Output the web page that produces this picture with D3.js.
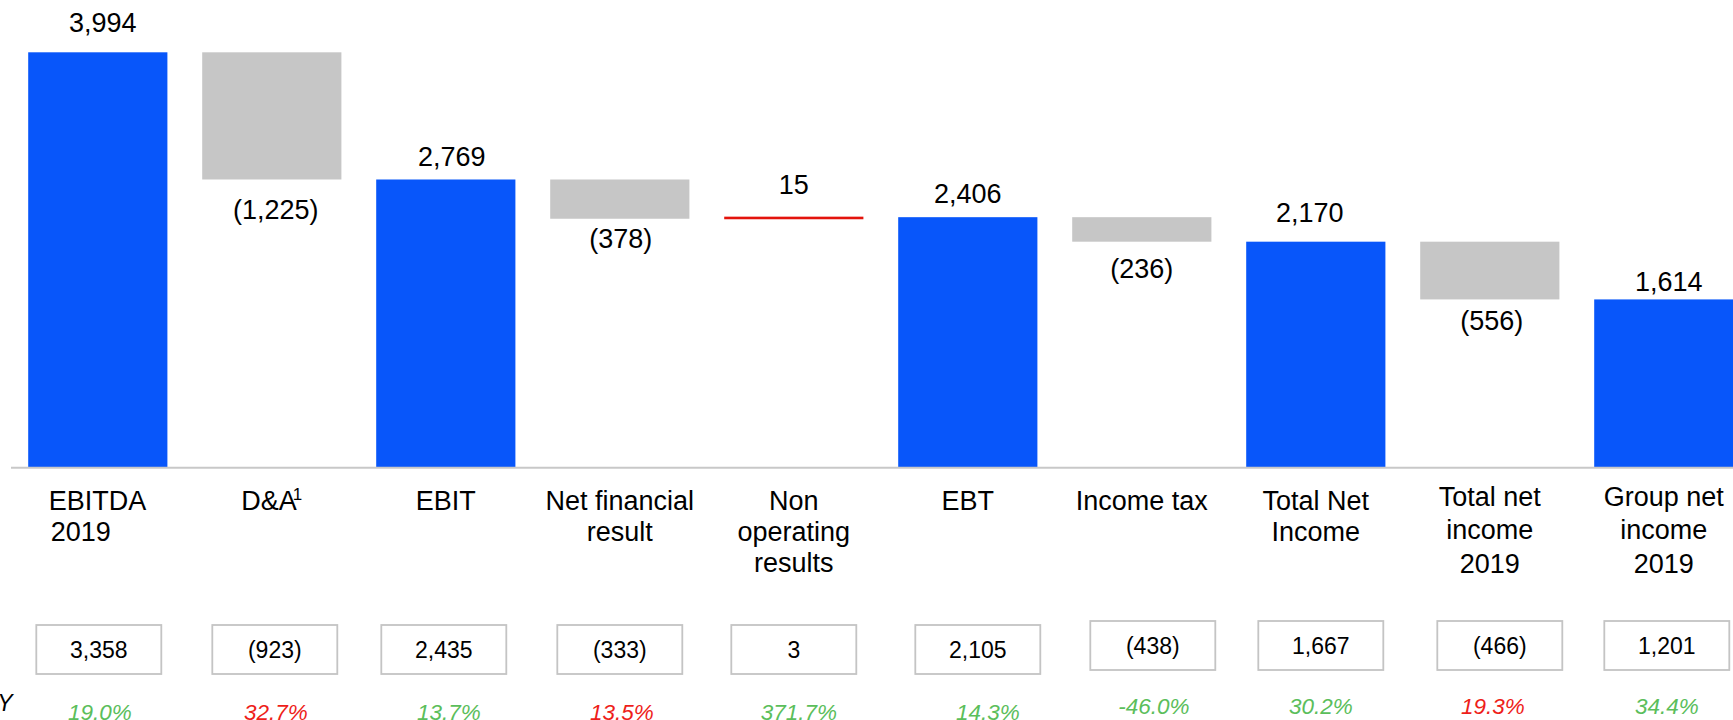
<!DOCTYPE html>
<html>
<head>
<meta charset="utf-8">
<script src="https://cdn.jsdelivr.net/npm/d3@7"></script>
<style>
  html, body { margin: 0; padding: 0; background: #ffffff; overflow: hidden; }
  svg { display: block; font-family: "Liberation Sans", Arial, sans-serif; }
</style>
</head>
<body>
<svg id="chart" width="1733" height="720"></svg>
<script>
// ---------------- data ----------------
const categories = [
  ["EBITDA", "2019"],
  ["D&A"],
  ["EBIT"],
  ["Net financial", "result"],
  ["Non", "operating", "results"],
  ["EBT"],
  ["Income tax"],
  ["Total Net", "Income"],
  ["Total net", "income", "2019"],
  ["Group net", "income", "2019"]
];
const footnotes = ["", "1", "", "", "", "", "", "", "", ""];
const values = [3994, -1225, 2769, -378, 15, 2406, -236, 2170, -556, 1614];
const barTypes = ["total", "delta", "total", "delta", "delta", "total", "delta", "total", "delta", "total"];
const priorYear = [3358, -923, 2435, -333, 3, 2105, -438, 1667, -466, 1201];
const yoyChange = [19.0, 32.7, 13.7, 13.5, 371.7, 14.3, -46.0, 30.2, 19.3, 34.4];
const yoyFavourable = [true, false, true, false, true, true, true, true, false, true];
const rowLabel = "YoY";

// ---------------- layout (offsets only) ----------------
const labelGap  = [20, 40, 13, 29, 23, 14, 36, 20, 31, 8];
const labelDx   = [5, 4, 6, 1, 0, 0, 0, -6, 2, 5];
const boxDx     = [1, 3, -2, 0, 0, 10, 11, 5, 10, 3];
const pctDx     = [2, 4, 3, 2, 5, 20, 12, 5, 3, 3];
const lowerRow  = [1, 1, 1, 1, 1, 1, 0, 0, 0, 0];

// ---------------- styles ----------------
const W = 1733, H = 720;
const colors = { total: "#0856FA", decrease: "#C6C6C6", increase: "#E3140C" };
const GREEN = "#5BBE5B", RED = "#EE1E1A";
const fmt = v => v < 0 ? "(" + d3.format(",")(-v) + ")" : d3.format(",")(v);

// ---------------- compute waterfall ----------------
let running = 0;
const bars = values.map((v, i) => {
  let y0, y1;
  if (barTypes[i] === "total") { y0 = 0; y1 = v; running = v; }
  else { y0 = running; y1 = running + v; running = y1; }
  const kind = barTypes[i] === "total" ? "total" : (v < 0 ? "decrease" : "increase");
  return { i, v, lo: Math.min(y0, y1), hi: Math.max(y0, y1), kind };
});

const svg = d3.select("#chart");

const x = d3.scaleBand()
  .domain(d3.range(categories.length))
  .range([10.8, 1750.8])
  .paddingInner(0.2)
  .paddingOuter(0.1);

const y = d3.scaleLinear()
  .domain([0, d3.max(bars, d => d.hi)])
  .range([467, 52.3]);

const cx = i => x(i) + x.bandwidth() / 2;

// bars
svg.append("g").selectAll("rect")
  .data(bars)
  .join("rect")
  .attr("x", d => x(d.i))
  .attr("width", x.bandwidth())
  .attr("y", d => d.kind === "increase" ? (y(d.hi) + y(d.lo)) / 2 - 1.3 : y(d.hi))
  .attr("height", d => d.kind === "increase" ? 2.6 : y(d.lo) - y(d.hi))
  .attr("fill", d => colors[d.kind]);

// baseline axis
const xAxis = d3.axisBottom(x).tickSize(0).tickFormat("");
const axisG = svg.append("g")
  .attr("transform", `translate(0,${y(0) + 0.7})`)
  .call(xAxis);
axisG.select(".domain").attr("d", `M11,0H${W}`).attr("stroke", "#C8C8C8").attr("stroke-width", 2);

// value labels
svg.append("g").selectAll("text")
  .data(bars)
  .join("text")
  .attr("x", d => cx(d.i) + labelDx[d.i])
  .attr("y", d => d.v < 0 ? y(d.lo) + labelGap[d.i] : y(d.hi) - labelGap[d.i])
  .attr("text-anchor", "middle")
  .attr("font-size", 27)
  .attr("fill", "#000")
  .text(d => fmt(d.v));

// category labels
const catG = svg.append("g");
categories.forEach((lines, i) => {
  const threeLineTall = lines.length === 3 && i >= 8;
  const top = threeLineTall ? 505.5 : 510;
  const lh = threeLineTall ? 33.8 : 31;
  const leftAlign = i === 0;
  const t = catG.append("text")
    .attr("font-size", 27)
    .attr("fill", "#000")
    .attr("text-anchor", leftAlign ? "start" : "middle");
  lines.forEach((ln, k) => {
    const ts = t.append("tspan")
      .attr("x", leftAlign ? cx(i) - 49 + (k > 0 ? 2 : 0) : cx(i))
      .attr("y", top + k * lh)
      .text(ln);
  });
  if (footnotes[i]) {
    t.append("tspan")
      .attr("dx", -4)
      .attr("dy", -10)
      .attr("font-size", 17)
      .text(footnotes[i]);
  }
});

// prior-year boxes
const boxW = 125, boxH = 49;
const boxG = svg.append("g");
priorYear.forEach((v, i) => {
  const bx = cx(i) + boxDx[i];
  const top = lowerRow[i] ? 625 : 621;
  boxG.append("rect")
    .attr("x", bx - boxW / 2)
    .attr("y", top)
    .attr("width", boxW)
    .attr("height", boxH)
    .attr("fill", "#fff")
    .attr("stroke", "#C4C4C4")
    .attr("stroke-width", 1.8);
  boxG.append("text")
    .attr("x", bx)
    .attr("y", top + boxH / 2 + 8.5)
    .attr("text-anchor", "middle")
    .attr("font-size", 23)
    .attr("fill", "#000")
    .text(fmt(v));
});

// YoY row
const pctG = svg.append("g");
yoyChange.forEach((v, i) => {
  pctG.append("text")
    .attr("x", cx(i) + pctDx[i])
    .attr("y", lowerRow[i] ? 720 : 713.5)
    .attr("text-anchor", "middle")
    .attr("font-size", 22.5)
    .attr("font-style", "italic")
    .attr("fill", yoyFavourable[i] ? GREEN : RED)
    .text(v.toFixed(1) + "%");
});

svg.append("text")
  .attr("x", 12.5)
  .attr("y", 711)
  .attr("text-anchor", "end")
  .attr("font-size", 23)
  .attr("font-style", "italic")
  .attr("fill", "#000")
  .text(rowLabel);
</script>
</body>
</html>
